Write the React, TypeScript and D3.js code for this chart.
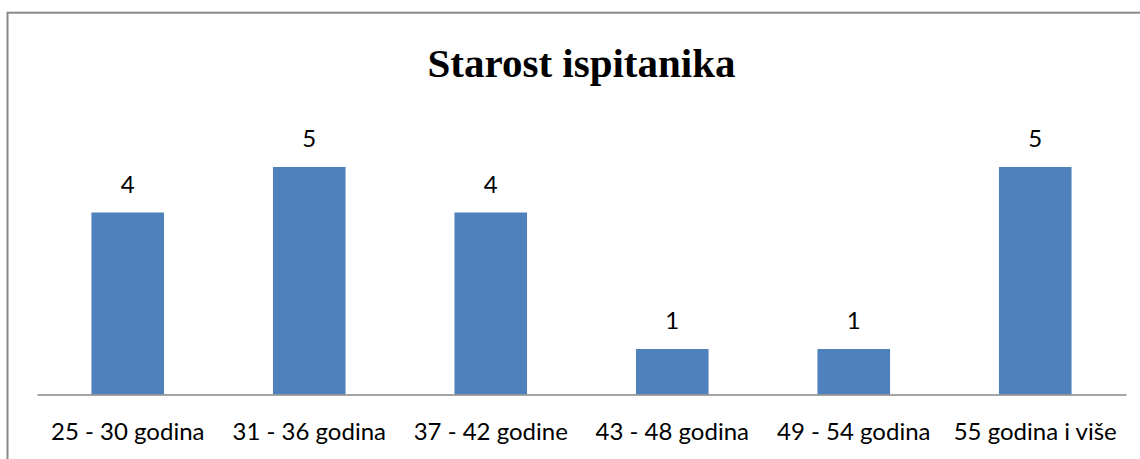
import React, { useRef, useEffect } from 'react';
import * as d3 from 'd3';

const categories = ['25 - 30 godina', '31 - 36 godina', '37 - 42 godine', '43 - 48 godina', '49 - 54 godina', '55 godina i više'];
const counts = [4, 5, 4, 1, 1, 5];
const chartTitle = 'Starost ispitanika';

export default function App() {
    const svgRef = useRef<SVGSVGElement>(null);
    const width = 1140;
    const height = 459;
    const margin = { top: 121.5, right: 14, bottom: 64.5, left: 37 };

    useEffect(() => {
        const svg = d3.select(svgRef.current);
        svg.selectAll('*').remove();

        // chart border (runs off the right and bottom edge)
        svg.append('rect')
            .attr('x', 7.5)
            .attr('y', 12.7)
            .attr('width', width + 10)
            .attr('height', height + 10)
            .attr('fill', 'white')
            .attr('stroke', '#898989')
            .attr('stroke-width', 2);

        const x = d3.scaleBand<string>()
            .domain(categories)
            .range([margin.left, width - margin.right])
            .paddingInner(0.6)
            .paddingOuter(0.3);

        const y = d3.scaleLinear()
            .domain([0, 6])
            .range([height - margin.bottom, margin.top]);

        // title
        svg.append('text')
            .attr('x', (margin.left + width - margin.right) / 2)
            .attr('y', 76.5)
            .attr('text-anchor', 'middle')
            .attr('font-family', '"Liberation Serif", "Times New Roman", serif')
            .attr('font-weight', 'bold')
            .attr('font-size', 41)
            .attr('fill', '#000')
            .text(chartTitle);

        // bars
        svg.append('g')
            .selectAll('rect')
            .data(counts)
            .join('rect')
            .attr('x', (d, i) => x(categories[i])!)
            .attr('y', d => y(d))
            .attr('width', x.bandwidth())
            .attr('height', d => y(0) - y(d))
            .attr('fill', '#4F81BD');

        // value labels
        svg.append('g')
            .selectAll('text')
            .data(counts)
            .join('text')
            .attr('x', (d, i) => x(categories[i])! + x.bandwidth() / 2)
            .attr('y', d => y(d) - 20)
            .attr('text-anchor', 'middle')
            .attr('font-family', 'Lato, "Open Sans", sans-serif')
            .attr('font-size', 24)
            .attr('fill', '#000')
            .text(d => d);

        // x axis
        const axis = svg.append('g')
            .attr('transform', `translate(0,${y(0)})`)
            .call(d3.axisBottom(x).tickSize(0).tickPadding(28).tickSizeOuter(0));
        axis.select('.domain')
            .attr('stroke', '#868686')
            .attr('stroke-width', 1.5);
        axis.selectAll('.tick text')
            .attr('font-family', 'Lato, "Open Sans", sans-serif')
            .attr('font-size', 24)
            .attr('fill', '#000');
    }, []);

    return <svg ref={svgRef} width={width} height={height} style={{ position: 'absolute', left: 0, top: 0 }} />;
}
